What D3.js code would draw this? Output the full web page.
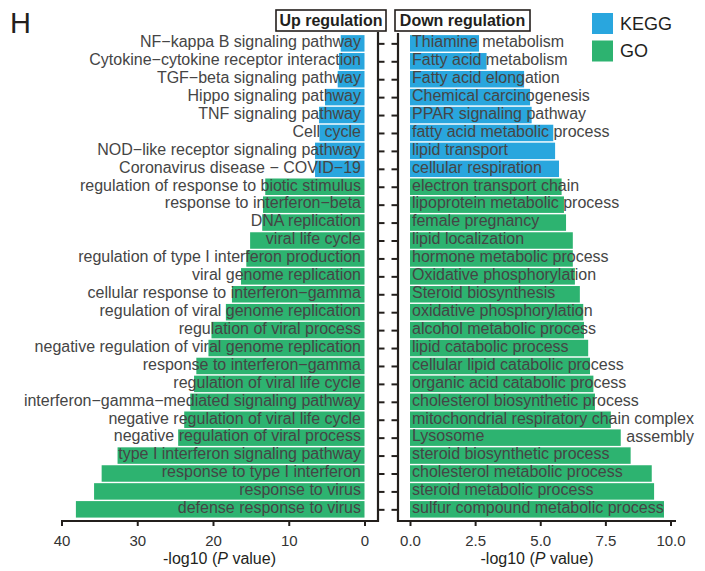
<!DOCTYPE html>
<html>
<head>
<meta charset="utf-8">
<script src="https://cdn.jsdelivr.net/npm/d3@7/dist/d3.min.js"></script>
<style>
  html, body { margin: 0; padding: 0; background: #fff; }
  svg { display: block; font-family: "Liberation Sans", Arial, Helvetica, sans-serif; }
</style>
</head>
<body>
<svg id="chart" width="705" height="571"></svg>
<script>
// ---------------- data ----------------
const upTerms = [
  "NF−kappa B signaling pathway",
  "Cytokine−cytokine receptor interaction",
  "TGF−beta signaling pathway",
  "Hippo signaling pathway",
  "TNF signaling pathway",
  "Cell cycle",
  "NOD−like receptor signaling pathway",
  "Coronavirus disease − COVID−19",
  "regulation of response to biotic stimulus",
  "response to interferon−beta",
  "DNA replication",
  "viral life cycle",
  "regulation of type I interferon production",
  "viral genome replication",
  "cellular response to interferon−gamma",
  "regulation of viral genome replication",
  "regulation of viral process",
  "negative regulation of viral genome replication",
  "response to interferon−gamma",
  "regulation of viral life cycle",
  "interferon−gamma−mediated signaling pathway",
  "negative regulation of viral life cycle",
  "negative regulation of viral process",
  "type I interferon signaling pathway",
  "response to type I interferon",
  "response to virus",
  "defense response to virus"
];
const upValues = [3.14, 3.37, 3.54, 5.21, 6.0, 5.95, 6.53, 6.53,
  13.1, 13.4, 13.5, 15.1, 15.6, 16.3, 17.5, 18.3, 20.2, 20.6,
  22.2, 22.5, 23.0, 23.8, 24.6, 32.6, 34.7, 35.7, 38.1];
const upTypes = ["KEGG","KEGG","KEGG","KEGG","KEGG","KEGG","KEGG","KEGG",
  "GO","GO","GO","GO","GO","GO","GO","GO","GO","GO",
  "GO","GO","GO","GO","GO","GO","GO","GO","GO"];

const downTerms = [
  "Thiamine metabolism",
  "Fatty acid metabolism",
  "Fatty acid elongation",
  "Chemical carcinogenesis",
  "PPAR signaling pathway",
  "fatty acid metabolic process",
  "lipid transport",
  "cellular respiration",
  "electron transport chain",
  "lipoprotein metabolic process",
  "female pregnancy",
  "lipid localization",
  "hormone metabolic process",
  "Oxidative phosphorylation",
  "Steroid biosynthesis",
  "oxidative phosphorylation",
  "alcohol metabolic process",
  "lipid catabolic process",
  "cellular lipid catabolic process",
  "organic acid catabolic process",
  "cholesterol biosynthetic process",
  "mitochondrial respiratory chain complex assembly",
  "Lysosome",
  "steroid biosynthetic process",
  "cholesterol metabolic process",
  "steroid metabolic process",
  "sulfur compound metabolic process"
];
const downValues = [2.65, 2.94, 4.38, 4.61, 4.67, 5.50, 5.57, 5.72,
  5.82, 5.91, 5.99, 6.25, 6.25, 6.33, 6.52, 6.65, 6.68, 6.84,
  6.91, 7.04, 7.10, 7.71, 8.09, 8.47, 9.28, 9.37, 9.75];
const downTypes = ["KEGG","KEGG","KEGG","KEGG","KEGG","KEGG","KEGG","KEGG",
  "GO","GO","GO","GO","GO","GO","GO","GO","GO","GO",
  "GO","GO","GO","GO","GO","GO","GO","GO","GO"];

const legendKeys = ["KEGG", "GO"];
const upTicks = [40, 30, 20, 10, 0];
const downTicks = [0, 2.5, 5, 7.5, 10];

// ---------------- styles ----------------
const colors = { KEGG: "#29a6de", GO: "#2db370" };
const dark = "#231f1c";
const labelColor = "#454545";

const svg = d3.select("#chart");

const upData = upTerms.map((t, i) => ({ term: t, value: upValues[i], type: upTypes[i] }));
const downData = downTerms.map((t, i) => ({ term: t, value: downValues[i], type: downTypes[i] }));

// shared y band scale
const y = d3.scaleBand().domain(d3.range(upTerms.length))
  .range([34.4, 518.3]).paddingInner(0.08).paddingOuter(0.04);

const xUp = d3.scaleLinear().domain([40, 0]).range([61.5, 364.5]);
const xDown = d3.scaleLinear().domain([0, 10]).range([410, 670.5]);

const axisY = 521;
const upPanel = { left: 61, right: 378 };
const downPanel = { left: 398, right: 676 };

// ---------- Panel title "H" ----------
svg.append("text").attr("x", 10).attr("y", 33)
  .attr("font-size", 29).attr("fill", dark).text("H");

// ---------- header boxes ----------
function header(x0, x1, label) {
  svg.append("rect").attr("x", x0).attr("y", 10).attr("width", x1 - x0).attr("height", 21)
    .attr("fill", "#fff").attr("stroke", dark).attr("stroke-width", 1.6);
  svg.append("text").attr("x", (x0 + x1) / 2).attr("y", 25.8)
    .attr("text-anchor", "middle").attr("font-size", 16).attr("font-weight", "bold")
    .attr("fill", dark).text(label);
}
header(276, 386, "Up regulation");
header(395, 530, "Down regulation");

// ---------- legend ----------
const lg = svg.append("g");
legendKeys.forEach((k, i) => {
  lg.append("rect").attr("x", 592).attr("y", 13 + i * 27.5).attr("width", 21).attr("height", 21)
    .attr("fill", colors[k]);
  lg.append("text").attr("x", 620).attr("y", 29.5 + i * 27.5)
    .attr("font-size", 18).attr("fill", dark).text(k);
});

// ---------- bars ----------
svg.append("g").selectAll("rect").data(upData).join("rect")
  .attr("x", d => xUp(d.value))
  .attr("y", (d, i) => y(i))
  .attr("width", d => xUp(0) - xUp(d.value))
  .attr("height", y.bandwidth())
  .attr("fill", d => colors[d.type]);

svg.append("g").selectAll("rect").data(downData).join("rect")
  .attr("x", xDown(0))
  .attr("y", (d, i) => y(i))
  .attr("width", d => xDown(d.value) - xDown(0))
  .attr("height", y.bandwidth())
  .attr("fill", d => colors[d.type]);

// ---------- labels ----------
const baseOff = 3.8;
svg.append("g").selectAll("text").data(upData).join("text")
  .attr("x", 361)
  .attr("y", (d, i) => y(i) + y.bandwidth() / 2 + baseOff)
  .attr("text-anchor", "end")
  .attr("font-size", 16)
  .attr("fill", labelColor)
  .text(d => d.term);

const dl = svg.append("g");
downData.forEach((d, i) => {
  const yy = y(i) + y.bandwidth() / 2 + baseOff;
  if (d.term === "mitochondrial respiratory chain complex assembly") {
    const t1 = dl.append("text").attr("x", 412).attr("y", yy)
      .attr("font-size", 16).attr("fill", labelColor)
      .text("mitochondrial respiratory chain complex");
    const w = t1.node().getComputedTextLength();
    dl.append("text").attr("x", 412 + w).attr("y", yy + y.step() + 1)
      .attr("text-anchor", "end")
      .attr("font-size", 16).attr("fill", labelColor).text("assembly");
  } else {
    dl.append("text").attr("x", 412).attr("y", yy)
      .attr("font-size", 16).attr("fill", labelColor).text(d.term);
  }
});

// ---------- axes ----------
function styleAxis(g) {
  g.selectAll("line").attr("stroke", dark).attr("stroke-width", 2);
  g.selectAll("path.domain").remove();
  g.selectAll("text").attr("fill", "#333").attr("font-size", 15)
    .attr("font-family", "'Liberation Sans', Arial, Helvetica, sans-serif");
}

// x axes
svg.append("g").attr("transform", `translate(0,${axisY})`)
  .call(d3.axisBottom(xUp).tickValues(upTicks).tickFormat(d3.format("d"))
    .tickSize(5).tickPadding(9).tickSizeOuter(0))
  .call(styleAxis);
svg.append("g").attr("transform", `translate(0,${axisY})`)
  .call(d3.axisBottom(xDown).tickValues(downTicks).tickFormat(d3.format(".1f"))
    .tickSize(5).tickPadding(9).tickSizeOuter(0))
  .call(styleAxis);

// y axes (ticks only)
const yCenter = d3.scalePoint().domain(d3.range(upTerms.length))
  .range([y(0) + y.bandwidth() / 2, y(upTerms.length - 1) + y.bandwidth() / 2]);
svg.append("g").attr("transform", `translate(${upPanel.right},0)`)
  .call(d3.axisRight(yCenter).tickSize(6.5).tickFormat(""))
  .call(styleAxis);
svg.append("g").attr("transform", `translate(${downPanel.left},0)`)
  .call(d3.axisLeft(yCenter).tickSize(6.5).tickFormat(""))
  .call(styleAxis);

// axis lines
const frame = svg.append("g").attr("stroke", dark).attr("stroke-width", 2.2).attr("fill", "none");
frame.append("path").attr("d", `M${upPanel.left},${axisY}H${upPanel.right}V32`);
frame.append("path").attr("d", `M${downPanel.right},${axisY}H${downPanel.left}V33`);

// axis titles
function axisTitle(cx) {
  const t = svg.append("text").attr("x", cx).attr("y", 564)
    .attr("text-anchor", "middle").attr("font-size", 16).attr("fill", dark);
  t.append("tspan").text("-log10 (");
  t.append("tspan").attr("font-style", "italic").text("P");
  t.append("tspan").text(" value)");
}
axisTitle((upPanel.left + upPanel.right) / 2);
axisTitle((downPanel.left + downPanel.right) / 2);
</script>
</body>
</html>
